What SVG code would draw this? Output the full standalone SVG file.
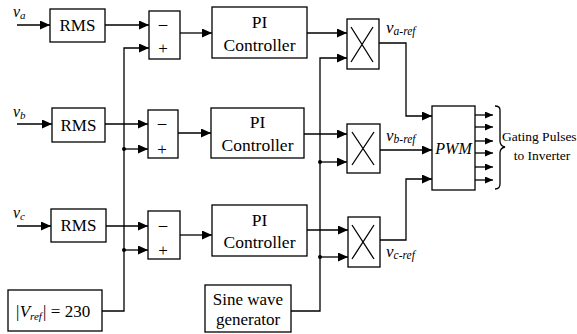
<svg xmlns="http://www.w3.org/2000/svg" width="577" height="334" viewBox="0 0 577 334">
<style>
.b{fill:#fff;stroke:#000;stroke-width:1.3}
.w{fill:none;stroke:#000;stroke-width:1.3}
.t{font-size:17px;fill:#000;text-anchor:middle}
.c{font-size:17.5px;fill:#000;text-anchor:middle}
.i{font-style:italic;fill:#000}
</style>
<defs>
<marker id="a" markerUnits="userSpaceOnUse" markerWidth="10" markerHeight="9" refX="10" refY="4.5" orient="auto"><path d="M0,0 L10,4.5 L0,9 Z" fill="#000"/></marker>
<marker id="m" markerUnits="userSpaceOnUse" markerWidth="8" markerHeight="7" refX="8" refY="3.5" orient="auto"><path d="M0,0 L8,3.5 L0,7 Z" fill="#000"/></marker>
</defs>
<g id="connectors">
<path class="w" d="M17,25 H50" marker-end="url(#a)"/>
<path class="w" d="M17,124 H52" marker-end="url(#a)"/>
<path class="w" d="M17,226 H51" marker-end="url(#a)"/>
<path class="w" d="M105,25 H149" marker-end="url(#a)"/>
<path class="w" d="M105,124 H148" marker-end="url(#a)"/>
<path class="w" d="M106,226 H148" marker-end="url(#a)"/>
<path class="w" d="M102,311 H124 V48 H149" marker-end="url(#a)"/>
<path class="w" d="M124,149 H148" marker-end="url(#a)"/>
<path class="w" d="M124,250 H148" marker-end="url(#a)"/>
<circle cx="124" cy="149" r="2"/>
<circle cx="124" cy="250" r="2"/>
<path class="w" d="M180,33 H212" marker-end="url(#a)"/>
<path class="w" d="M178,133 H211" marker-end="url(#a)"/>
<path class="w" d="M180,235 H212" marker-end="url(#a)"/>
<path class="w" d="M307,33 H347" marker-end="url(#a)"/>
<path class="w" d="M304,134 H347" marker-end="url(#a)"/>
<path class="w" d="M307,230 H348" marker-end="url(#a)"/>
<path class="w" d="M291,311 H320 V58 H347" marker-end="url(#a)"/>
<path class="w" d="M320,162 H347" marker-end="url(#a)"/>
<path class="w" d="M320,257 H348" marker-end="url(#a)"/>
<circle cx="320" cy="162" r="2"/>
<circle cx="320" cy="257" r="2"/>
<path class="w" d="M379,43 H406 V116 H432" marker-end="url(#a)"/>
<path class="w" d="M380,150 H432" marker-end="url(#a)"/>
<path class="w" d="M380,240 H406 V179 H432" marker-end="url(#a)"/>
<path class="w" d="M475,115 H493" marker-end="url(#m)"/>
<path class="w" d="M475,127 H493" marker-end="url(#m)"/>
<path class="w" d="M475,141 H493" marker-end="url(#m)"/>
<path class="w" d="M475,153 H493" marker-end="url(#m)"/>
<path class="w" d="M475,167 H493" marker-end="url(#m)"/>
<path class="w" d="M475,180 H493" marker-end="url(#m)"/>
<path class="w" d="M495,106 Q500,106 500,110 V141 Q500,146 505,147 Q500,148 500,153 V184 Q500,189 495,189"/>
</g>
<g font-family="Liberation Serif, Times New Roman, DejaVu Serif, serif">
<g id="va"><text class="i" x="13" y="17" font-size="16">v<tspan font-size="11" dy="2">a</tspan></text></g>
<g id="vb"><text class="i" x="13" y="117" font-size="16">v<tspan font-size="11" dy="2">b</tspan></text></g>
<g id="vc"><text class="i" x="13" y="218" font-size="16">v<tspan font-size="11" dy="2">c</tspan></text></g>
<g id="rms1"><rect class="b" x="50" y="9" width="55" height="33"/><text class="t" x="77.5" y="31">RMS</text></g>
<g id="rms2"><rect class="b" x="52" y="108" width="53" height="34"/><text class="t" x="78.5" y="130.5">RMS</text></g>
<g id="rms3"><rect class="b" x="51" y="209" width="55" height="33"/><text class="t" x="78.5" y="231">RMS</text></g>
<g id="sum1"><rect class="b" x="149" y="11" width="31" height="48"/><text class="t" x="163" y="29">–</text><text class="t" x="163" y="54">+</text></g>
<g id="sum2"><rect class="b" x="148" y="110" width="30" height="48"/><text class="t" x="162" y="128">–</text><text class="t" x="162" y="155">+</text></g>
<g id="sum3"><rect class="b" x="148" y="211" width="32" height="48"/><text class="t" x="163" y="230">–</text><text class="t" x="163" y="256">+</text></g>
<g id="pi1"><rect class="b" x="212" y="7" width="95" height="51"/><text class="c" x="259.5" y="28">PI</text><text class="c" x="259.5" y="50.5">Controller</text></g>
<g id="pi2"><rect class="b" x="211" y="108" width="93" height="50"/><text class="c" x="257.5" y="128">PI</text><text class="c" x="257.5" y="150.5">Controller</text></g>
<g id="pi3"><rect class="b" x="212" y="205" width="95" height="51"/><text class="c" x="259.5" y="226">PI</text><text class="c" x="259.5" y="248">Controller</text></g>
<g id="mul1"><rect class="b" x="347" y="19" width="32" height="50"/><path class="w" d="M351,27 L373,62 M373,27 L351,62" stroke-width="1"/></g>
<g id="mul2"><rect class="b" x="347" y="124" width="33" height="49"/><path class="w" d="M352,132 L374,165 M374,132 L352,165" stroke-width="1"/></g>
<g id="mul3"><rect class="b" x="348" y="217" width="32" height="50"/><path class="w" d="M352,225 L374,259 M374,225 L352,259" stroke-width="1"/></g>
<g id="varef"><text class="i" x="386" y="33" font-size="17">v<tspan font-size="11.5" dy="1.5">a-ref</tspan></text></g>
<g id="vbref"><text class="i" x="386" y="141" font-size="17">v<tspan font-size="11.5" dy="1.5">b-ref</tspan></text></g>
<g id="vcref"><text class="i" x="386" y="257" font-size="17">v<tspan font-size="11.5" dy="1.5">c-ref</tspan></text></g>
<g id="pwm"><rect class="b" x="432" y="106" width="43" height="84"/><text class="i" x="453.5" y="154" font-size="16" text-anchor="middle">PWM</text></g>
<g id="gating"><text x="502" y="141" font-size="13.5">Gating Pulses</text><text x="542" y="160" font-size="13.5" text-anchor="middle">to Inverter</text></g>
<g id="vref"><rect class="b" x="8" y="290" width="94" height="41"/><text class="i" x="15" y="317" font-size="17">|V<tspan font-size="11" dy="3">ref</tspan><tspan dy="-3">|</tspan><tspan font-style="normal"> = 230</tspan></text></g>
<g id="sine"><rect class="b" x="205" y="285" width="86" height="47"/><text class="t" x="248" y="304.5">Sine wave</text><text class="t" x="248" y="324.5">generator</text></g>
</g>
</svg>
